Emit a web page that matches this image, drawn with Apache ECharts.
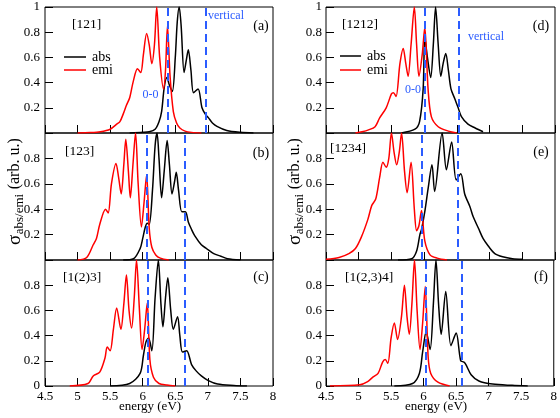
<!DOCTYPE html>
<html><head><meta charset="utf-8">
<script src="https://cdn.jsdelivr.net/npm/echarts/dist/echarts.min.js"></script>
<style>html,body{margin:0;padding:0;background:#fff}#c{width:560px;height:418px}</style>
</head><body><div id="c"></div>
<script>
// ---------- data (energy in eV, normalised cross sections) ----------
const xTicks = [4.5, 5, 5.5, 6, 6.5, 7, 7.5, 8];
const yTicks = [0, 0.2, 0.4, 0.6, 0.8, 1];
const panelNames = ['[121]', '[123]', '[1(2)3]', '[1212]', '[1234]', '[1(2,3)4]'];
const panelLetters = ['(a)', '(b)', '(c)', '(d)', '(e)', '(f)'];
const zeroZero = [6.38, 6.06, 6.07, 6.01, 5.975, 6.03];
const vertical = [6.96, 6.64, 6.65, 6.53, 6.51, 6.59];

// (a) [121]
const absA_E = [5.8, 6.0, 6.1, 6.19, 6.25, 6.29, 6.33, 6.37, 6.41, 6.455, 6.5, 6.53, 6.56, 6.59, 6.635, 6.67, 6.70, 6.74, 6.78, 6.85, 6.91, 6.96, 7.01, 7.07, 7.14, 7.29, 7.5, 7.7];
const absA_Y = [0, 0.005, 0.01, 0.03, 0.09, 0.17, 0.36, 0.44, 0.38, 0.33, 0.6, 0.88, 1.0, 0.85, 0.48, 0.58, 0.66, 0.5, 0.32, 0.35, 0.2, 0.15, 0.12, 0.08, 0.053, 0.02, 0.005, 0];
const emiA_E = [5.0, 5.19, 5.35, 5.5, 5.6, 5.65, 5.7, 5.75, 5.8, 5.855, 5.92, 5.97, 6.01, 6.06, 6.1, 6.14, 6.18, 6.215, 6.26, 6.32, 6.35, 6.38, 6.42, 6.47, 6.52, 6.57, 6.65, 6.75, 6.9];
const emiA_Y = [0, 0.003, 0.01, 0.03, 0.07, 0.09, 0.15, 0.22, 0.28, 0.41, 0.51, 0.48, 0.62, 0.79, 0.7, 0.55, 0.7, 1.0, 0.6, 0.35, 0.5, 0.85, 0.45, 0.17, 0.08, 0.04, 0.015, 0.005, 0];

// (b) [123]
const absB_E = [5.7, 5.86, 5.96, 6.0, 6.04, 6.07, 6.1, 6.15, 6.19, 6.22, 6.25, 6.29, 6.33, 6.375, 6.41, 6.45, 6.49, 6.515, 6.55, 6.6, 6.655, 6.7, 6.75, 6.8, 6.9, 6.98, 7.09, 7.2, 7.3, 7.5];
const absB_Y = [0, 0.01, 0.09, 0.17, 0.26, 0.29, 0.28, 0.55, 0.9, 1.0, 0.8, 0.49, 0.7, 0.94, 0.75, 0.52, 0.62, 0.69, 0.55, 0.38, 0.38, 0.3, 0.24, 0.19, 0.12, 0.09, 0.05, 0.03, 0.01, 0];
const emiB_E = [5.0, 5.14, 5.24, 5.29, 5.34, 5.43, 5.47, 5.52, 5.59, 5.63, 5.67, 5.71, 5.74, 5.78, 5.81, 5.85, 5.89, 5.93, 5.98, 6.02, 6.06, 6.1, 6.14, 6.2, 6.27, 6.4];
const emiB_Y = [0, 0.02, 0.12, 0.17, 0.28, 0.40, 0.37, 0.6, 0.76, 0.65, 0.52, 0.75, 0.95, 0.7, 0.49, 0.75, 1.0, 0.6, 0.26, 0.45, 0.67, 0.25, 0.1, 0.04, 0.015, 0];

// (c) [1(2)3]
const absC_E = [5.5, 5.8, 5.96, 6.01, 6.05, 6.09, 6.14, 6.19, 6.24, 6.28, 6.31, 6.35, 6.385, 6.43, 6.47, 6.535, 6.57, 6.61, 6.675, 6.75, 6.82, 6.9, 7.0, 7.15, 7.4, 7.6];
const absC_Y = [0, 0.02, 0.1, 0.24, 0.35, 0.38, 0.28, 0.7, 1.0, 0.65, 0.47, 0.7, 0.86, 0.6, 0.45, 0.55, 0.4, 0.27, 0.28, 0.17, 0.12, 0.08, 0.045, 0.015, 0.004, 0];
const emiC_E = [4.88, 5.16, 5.24, 5.34, 5.42, 5.455, 5.5, 5.55, 5.6, 5.665, 5.71, 5.75, 5.79, 5.83, 5.87, 5.905, 5.95, 5.99, 6.03, 6.07, 6.11, 6.165, 6.25, 6.37, 6.5];
const emiC_Y = [0, 0.02, 0.08, 0.11, 0.22, 0.31, 0.28, 0.45, 0.62, 0.45, 0.65, 0.88, 0.6, 0.46, 0.7, 1.0, 0.6, 0.29, 0.45, 0.66, 0.21, 0.07, 0.02, 0.008, 0];

// (d) [1212]
const absD_E = [5.65, 5.86, 5.93, 5.985, 6.01, 6.05, 6.10, 6.14, 6.175, 6.215, 6.255, 6.29, 6.33, 6.37, 6.41, 6.47, 6.52, 6.57, 6.67, 6.78, 6.9];
const absD_Y = [0, 0.03, 0.09, 0.35, 0.76, 0.6, 0.44, 0.7, 1.0, 0.7, 0.45, 0.55, 0.63, 0.5, 0.35, 0.27, 0.2, 0.13, 0.07, 0.04, 0.01];
const emiD_E = [4.95, 5.05, 5.15, 5.25, 5.32, 5.42, 5.50, 5.53, 5.57, 5.63, 5.68, 5.72, 5.755, 5.80, 5.85, 5.885, 5.92, 5.97, 6.01, 6.06, 6.11, 6.215, 6.37, 6.5];
const emiD_Y = [0, 0.01, 0.025, 0.05, 0.12, 0.2, 0.31, 0.32, 0.29, 0.55, 0.67, 0.55, 0.45, 0.7, 1.0, 0.7, 0.45, 0.62, 0.84, 0.35, 0.13, 0.05, 0.015, 0];

// (e) [1234]
const absE_E = [5.6, 5.81, 5.885, 5.935, 5.96, 6.01, 6.06, 6.12, 6.16, 6.275, 6.34, 6.42, 6.49, 6.56, 6.62, 6.70, 6.75, 6.83, 6.90, 6.98, 7.08, 7.2, 7.35, 7.5];
const absE_Y = [0, 0.01, 0.07, 0.2, 0.24, 0.38, 0.56, 0.75, 0.54, 1.0, 0.71, 0.93, 0.63, 0.68, 0.52, 0.42, 0.34, 0.25, 0.17, 0.11, 0.05, 0.025, 0.01, 0.005];
const emiE_E = [4.5, 4.7, 4.85, 4.95, 5.04, 5.14, 5.2, 5.26, 5.32, 5.37, 5.42, 5.46, 5.50, 5.54, 5.58, 5.62, 5.655, 5.70, 5.74, 5.80, 5.85, 5.885, 5.92, 5.96, 6.01, 6.09, 6.2, 6.35];
const emiE_Y = [0.005, 0.02, 0.05, 0.09, 0.18, 0.32, 0.43, 0.48, 0.65, 0.77, 0.73, 0.8, 1.0, 0.85, 0.75, 0.85, 1.0, 0.7, 0.53, 0.77, 0.4, 0.23, 0.27, 0.39, 0.15, 0.04, 0.015, 0];

// (f) [1(2,3)4]
const absF_E = [5.55, 5.83, 5.935, 5.985, 6.04, 6.10, 6.15, 6.19, 6.23, 6.27, 6.34, 6.42, 6.50, 6.57, 6.62, 6.65, 6.73, 6.85, 7.06, 7.36, 7.6];
const absF_Y = [0, 0.02, 0.1, 0.27, 0.43, 0.29, 0.65, 1.0, 0.65, 0.41, 0.75, 0.32, 0.42, 0.2, 0.19, 0.17, 0.09, 0.04, 0.015, 0.005, 0];
const emiF_E = [4.56, 5.02, 5.14, 5.22, 5.30, 5.37, 5.41, 5.45, 5.50, 5.55, 5.60, 5.66, 5.705, 5.745, 5.78, 5.82, 5.86, 5.90, 5.945, 5.985, 6.025, 6.07, 6.11, 6.22, 6.4];
const emiF_Y = [0, 0.01, 0.035, 0.07, 0.1, 0.19, 0.21, 0.18, 0.38, 0.50, 0.37, 0.55, 0.80, 0.55, 0.41, 0.65, 1.0, 0.6, 0.29, 0.5, 0.79, 0.23, 0.1, 0.03, 0];

const absAll = [[absA_E, absA_Y], [absB_E, absB_Y], [absC_E, absC_Y], [absD_E, absD_Y], [absE_E, absE_Y], [absF_E, absF_Y]];
const emiAll = [[emiA_E, emiA_Y], [emiB_E, emiB_Y], [emiC_E, emiC_Y], [emiD_E, emiD_Y], [emiE_E, emiE_Y], [emiF_E, emiF_Y]];

// ---------- layout ----------
const FONT = '"Liberation Serif", "Times New Roman", serif';
const BLUE = '#2b5cff';
const colLeft = [45, 326];
const colWidth = [228, 229];
const rowTop = [7, 133, 260];
const rowHeight = [126, 127, 126];

const chart = echarts.init(document.getElementById('c'), null, {renderer: 'canvas'});
const grids = [], xAxes = [], yAxes = [], series = [], graphics = [];
const pair = (E, Y) => E.map((e, i) => [e, Y[i]]);

for (let p = 0; p < 6; p++) {
  const col = Math.floor(p / 3), row = p % 3;
  grids.push({left: colLeft[col], top: rowTop[row], width: colWidth[col], height: rowHeight[row],
    show: true, borderColor: '#000', borderWidth: 1, backgroundColor: 'transparent'});
  xAxes.push({gridIndex: p, type: 'value', min: xTicks[0], max: xTicks[xTicks.length - 1], interval: 0.5,
    axisLine: {show: false}, splitLine: {show: false},
    axisTick: {show: true, inside: true, length: 8, lineStyle: {color: '#000', width: 1}},
    axisLabel: {show: row === 2, margin: 4, color: '#000', fontFamily: FONT, fontSize: 13,
      formatter: v => String(+v.toFixed(1))}});
  yAxes.push({gridIndex: p, type: 'value', min: yTicks[0], max: yTicks[yTicks.length - 1], interval: 0.2,
    axisLine: {show: false}, splitLine: {show: false},
    axisTick: {show: true, inside: true, length: 8, lineStyle: {color: '#000', width: 1}},
    axisLabel: {show: true, margin: col === 0 ? 5 : 4, color: '#000', fontFamily: FONT, fontSize: 13,
      formatter: v => {
        const r = +v.toFixed(1);
        if (r === 0 && row !== 2) return '';
        if (r === 1 && row !== 0) return '';
        return String(r);
      }}});
  series.push({type: 'line', xAxisIndex: p, yAxisIndex: p, data: pair(absAll[p][0], absAll[p][1]),
    showSymbol: false, smooth: 0.3, lineStyle: {color: '#000', width: 1.5}, z: 2, silent: true});
  series.push({type: 'line', xAxisIndex: p, yAxisIndex: p, data: pair(emiAll[p][0], emiAll[p][1]),
    showSymbol: false, smooth: 0.3, lineStyle: {color: '#ff0000', width: 1.5}, z: 3, silent: true});
  series.push({type: 'line', xAxisIndex: p, yAxisIndex: p, data: [], z: 4,
    markLine: {silent: true, symbol: 'none', label: {show: false},
      lineStyle: {color: BLUE, width: 2, type: [8, 5]},
      data: [{xAxis: zeroZero[p]}, {xAxis: vertical[p]}]}});
}

// panel annotations
const nameX = [72, 65, 63, 342, 330, 345];
const nameY = [24, 151, 277.5, 24, 148, 277.5];
const letterX = [261, 261, 261, 541, 541, 541];
const letterY = [26, 153, 277, 26, 152.5, 277];
for (let p = 0; p < 6; p++) {
  graphics.push({type: 'text', x: nameX[p], y: nameY[p], z: 10,
    style: {text: panelNames[p], fill: '#000', fontFamily: FONT, fontSize: 13.5, align: 'left', verticalAlign: 'middle'}});
  graphics.push({type: 'text', x: letterX[p], y: letterY[p], z: 10,
    style: {text: panelLetters[p], fill: '#000', fontFamily: FONT, fontSize: 14, align: 'center', verticalAlign: 'middle'}});
}
// blue annotations
graphics.push({type: 'text', x: 150.5, y: 95, z: 10, style: {text: '0-0', fill: BLUE, fontFamily: FONT, fontSize: 12, align: 'center', verticalAlign: 'middle'}});
graphics.push({type: 'text', x: 208, y: 16, z: 10, style: {text: 'vertical', fill: BLUE, fontFamily: FONT, fontSize: 12, align: 'left', verticalAlign: 'middle'}});
graphics.push({type: 'text', x: 413, y: 90, z: 10, style: {text: '0-0', fill: BLUE, fontFamily: FONT, fontSize: 12, align: 'center', verticalAlign: 'middle'}});
graphics.push({type: 'text', x: 468, y: 37, z: 10, style: {text: 'vertical', fill: BLUE, fontFamily: FONT, fontSize: 12, align: 'left', verticalAlign: 'middle'}});

// legends
const legX = [[64, 86, 92], [340, 361, 367]];
const legY = [[57, 70], [56, 70]];
for (let c = 0; c < 2; c++) {
  [['abs', '#000'], ['emi', '#ff0000']].forEach(([t, col], k) => {
    graphics.push({type: 'line', z: 10, shape: {x1: legX[c][0], y1: legY[c][k], x2: legX[c][1], y2: legY[c][k]},
      style: {stroke: col, lineWidth: 1.5}});
    graphics.push({type: 'text', x: legX[c][2], y: legY[c][k], z: 10,
      style: {text: t, fill: '#000', fontFamily: FONT, fontSize: 14, align: 'left', verticalAlign: 'middle'}});
  });
}

// axis titles
const xTitleX = [150, 436];
xTitleX.forEach(x => graphics.push({type: 'text', x: x, y: 407, z: 10,
  style: {text: 'energy (eV)', fill: '#000', fontFamily: FONT, fontSize: 13, align: 'center', verticalAlign: 'middle'}}));

const mctx = document.createElement('canvas').getContext('2d');
function tw(t, s) { mctx.font = s + 'px "Liberation Serif"'; return mctx.measureText(t).width; }
function yTitle(cx, by) {
  const w1 = tw('σ', 19), w2 = tw('abs/emi', 13);
  return {type: 'group', x: cx, y: by, rotation: Math.PI / 2, z: 10, children: [
    {type: 'text', x: 0, y: 0, style: {text: 'σ', fill: '#000', fontFamily: FONT, fontSize: 19, align: 'left', verticalAlign: 'middle'}},
    {type: 'text', x: w1 + 0.5, y: 5, style: {text: 'abs/emi', fill: '#000', fontFamily: FONT, fontSize: 13, align: 'left', verticalAlign: 'middle'}},
    {type: 'text', x: w1 + w2 + 5, y: 0, style: {text: '(arb. u.)', fill: '#000', fontFamily: FONT, fontSize: 16, align: 'left', verticalAlign: 'middle'}}
  ]};
}
graphics.push(yTitle(15, 245));
graphics.push(yTitle(295, 245));

chart.setOption({
  animation: false,
  backgroundColor: '#fff',
  grid: grids, xAxis: xAxes, yAxis: yAxes, series: series, graphic: graphics
});
</script>
</body></html>
